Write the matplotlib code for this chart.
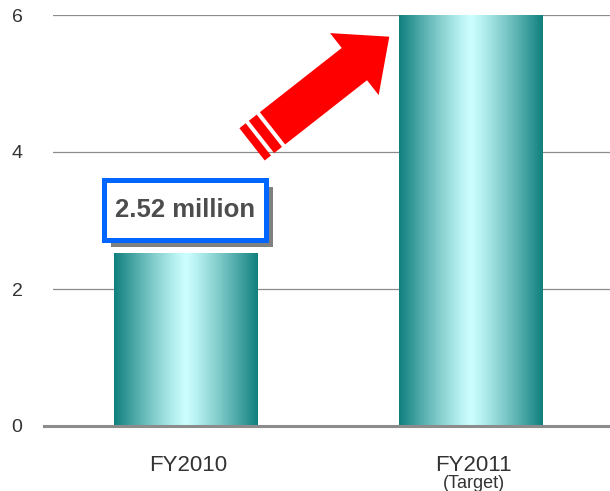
import numpy as np
import matplotlib
matplotlib.use("Agg")
import matplotlib.pyplot as plt
from matplotlib.patches import Rectangle, Polygon
from matplotlib.transforms import Affine2D

plt.rcParams['font.family'] = ['Liberation Sans', 'DejaVu Sans']

# Data
categories = ["FY2010", "FY2011"]
sublabels = ["", "(Target)"]
values = [2.52, 6.0]
value_label = "2.52 million"
yticks = [0, 2, 4, 6]

W, H = 610, 491
fig = plt.figure(figsize=(W / 100, H / 100), dpi=100)
ax = fig.add_axes([53 / W, 1 - 426 / H, 1 - 53 / W, (426 - 15) / H])

ax.set_xlim(-0.465, 1.489)
ax.set_ylim(0, 6)
for s in ax.spines.values():
    s.set_visible(False)

# Gridlines
for t in yticks[1:]:
    ax.axhline(t, color="#8c8c8c", lw=0.9, zorder=1)
ax.axhline(0, xmin=-9 / 557, xmax=1, color="#8c8c8c", lw=2.2, zorder=4, clip_on=False)

ax.set_yticks(yticks)
ax.set_yticklabels([str(t) for t in yticks])
ax.tick_params(axis="y", length=0, pad=22, labelsize=14, labelcolor="#333333")
ax.set_xticks([])

# Horizontal teal gradient for the bars
edge = np.array([16, 128, 126]) / 255
centre = np.array([204, 255, 255]) / 255
xs = np.linspace(0, 1, 256)
t = np.abs(xs - 0.5) * 2
prof = t ** 1.15
cols = centre[None, :] + (edge - centre)[None, :] * prof[:, None]
grad = cols[None, :, :]

bar_w = 0.502
bars = ax.bar(range(len(values)), values, width=bar_w, color="none", zorder=2)
for b in bars:
    x0, y0 = b.get_x(), b.get_y()
    w, h = b.get_width(), b.get_height()
    im = ax.imshow(grad, extent=[x0, x0 + w, y0, y0 + h], aspect="auto",
                   interpolation="bilinear", zorder=2)
    im.set_clip_path(b)

# Category labels
for i, (c, s) in enumerate(zip(categories, sublabels)):
    ax.text(i + 0.01, -0.57, c, ha="center", va="center", fontsize=16,
            color="#333333")
    if s:
        ax.text(i + 0.01, -0.835, s, ha="center", va="center", fontsize=13,
                color="#333333")

# Value callout box above the first bar
bx, bw = -0.286, 0.568
by, bh = values[0] + 0.195, 0.876
dx, dy = 7 / 285, 7 / 68.5
ax.add_patch(Rectangle((bx + dx, by - dy), bw, bh, facecolor="#808080",
                       edgecolor="none", zorder=5))
ax.add_patch(Rectangle((bx, by), bw, bh, facecolor="white", edgecolor="#0066ff",
                       lw=3.6, zorder=6, joinstyle="miter"))
ax.text(bx + bw / 2, by + bh / 2, value_label, ha="center", va="center",
        fontsize=18.5, fontweight="bold", color="#4d4d4d", zorder=7)

# Red rising arrow (drawn in pixel space, origin top-left)
pix = Affine2D().scale(1 / W, -1 / H).translate(0, 1) + fig.transFigure
tip = np.array([389.3, 36.7])
tail = np.array([272.5, 128.3])
u = (tip - tail) / np.linalg.norm(tip - tail)
n = np.array([-u[1], u[0]])
head_len, head_half, body_half = 44.4, 39.4, 20.5
hb = tip - head_len * u
arrow_pts = [tail - body_half * n, hb - body_half * n, hb - head_half * n, tip,
             hb + head_half * n, hb + body_half * n, tail + body_half * n]
fig.patches.append(Polygon(arrow_pts, closed=True, facecolor="#ff0000",
                           edgecolor="none", transform=pix, zorder=8))
for a, b_ in [(4, 14), (18, 26)]:
    p0 = tail - a * u
    p1 = tail - b_ * u
    pts = [p0 - body_half * n, p1 - body_half * n, p1 + body_half * n, p0 + body_half * n]
    fig.patches.append(Polygon(pts, closed=True, facecolor="#ff0000",
                               edgecolor="none", transform=pix, zorder=8))

fig.savefig("out.png", dpi=100)
